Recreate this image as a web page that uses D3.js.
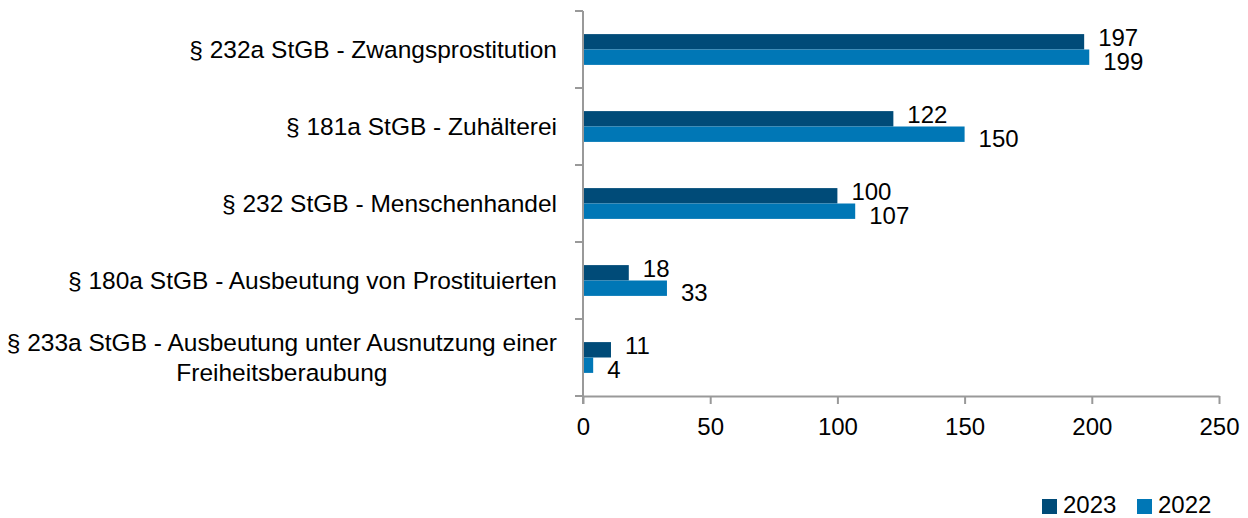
<!DOCTYPE html>
<html>
<head>
<meta charset="utf-8">
<script src="https://cdn.jsdelivr.net/npm/d3@7"></script>
<style>
  body { margin: 0; background: #fff; }
  text { font-family: "Liberation Sans", Arial, sans-serif; fill: #000; }
</style>
</head>
<body>
<div id="root"></div>
<script>
const categories = [
  ["§ 232a StGB - Zwangsprostitution"],
  ["§ 181a StGB - Zuhälterei"],
  ["§ 232 StGB - Menschenhandel"],
  ["§ 180a StGB - Ausbeutung von Prostituierten"],
  ["§ 233a StGB - Ausbeutung unter Ausnutzung einer", "Freiheitsberaubung"]
];
const series = ["2023", "2022"];
const values2023 = [197, 122, 100, 18, 11];
const values2022 = [199, 150, 107, 33, 4];
const xTicks = [0, 50, 100, 150, 200, 250];

const width = 1248;
const height = 518;
const colors = { "2023": "#004b78", "2022": "#0077b6" };
const axisColor = "#999999";

var svg = d3.select("#root").append("svg")
  .attr("width", width)
  .attr("height", height);

var x = d3.scaleLinear()
  .domain([0, 250])
  .range([583, 1219]);

var y = d3.scaleBand()
  .domain(d3.range(categories.length))
  .range([11, 396])
  .paddingInner(0.6)
  .paddingOuter(0.3);

// band step is 77, so inner bars get their own scale
var yInner = d3.scaleBand()
  .domain(series)
  .range([0, y.bandwidth()]);

// axes
var xAxis = svg.append("g")
  .attr("transform", "translate(0,396)")
  .call(d3.axisBottom(x).tickValues(xTicks).tickSize(8).tickSizeOuter(0).tickPadding(14));
xAxis.select(".domain").attr("stroke", axisColor).attr("stroke-width", 2);
xAxis.selectAll(".tick line").attr("stroke", axisColor).attr("stroke-width", 2);
xAxis.selectAll(".tick text")
  .attr("font-size", 24)
  .attr("font-family", "Liberation Sans, Arial, sans-serif");

var yTicks = d3.range(categories.length + 1).map(i => 11 + i * y.step());
svg.append("line")
  .attr("x1", x(0)).attr("x2", x(0))
  .attr("y1", 11).attr("y2", 404)
  .attr("stroke", axisColor).attr("stroke-width", 2);
svg.selectAll(".ytick")
  .data(yTicks)
  .enter().append("line")
  .attr("x1", x(0) - 8).attr("x2", x(0))
  .attr("y1", d => d).attr("y2", d => d)
  .attr("stroke", axisColor).attr("stroke-width", 2);

// bars
var rows = categories.map((c, i) => ({ i: i, label: c, v: { "2023": values2023[i], "2022": values2022[i] } }));

var groups = svg.selectAll(".group")
  .data(rows)
  .enter().append("g")
  .attr("transform", d => "translate(0," + y(d.i) + ")");

groups.selectAll("rect")
  .data(d => series.map(s => ({ s: s, v: d.v[s] })))
  .enter().append("rect")
  .attr("x", x(0) + 1)
  .attr("y", d => yInner(d.s))
  .attr("width", d => x(d.v) - x(0) - 1)
  .attr("height", yInner.bandwidth())
  .attr("fill", d => colors[d.s]);

groups.selectAll(".val")
  .data(d => series.map(s => ({ s: s, v: d.v[s] })))
  .enter().append("text")
  .attr("x", d => x(d.v) + 14)
  .attr("y", d => yInner(d.s) + yInner.bandwidth() / 2 + (d.s === "2023" ? -4 : 4))
  .attr("dy", "0.35em")
  .attr("font-size", 24)
  .text(d => d.v);

// category labels
var labelRight = 557;
groups.each(function(d) {
  var g = d3.select(this);
  var t = g.append("text")
    .attr("font-size", 24.5)
    .attr("text-anchor", "middle");
  var n = d.label.length;
  d.label.forEach((line, k) => {
    t.append("tspan")
      .attr("y", y.bandwidth() / 2 + (k - (n - 1) / 2) * 30)
      .attr("dy", "0.35em")
      .text(line);
  });
  var maxW = d3.max(t.selectAll("tspan").nodes(), n => n.getComputedTextLength());
  t.selectAll("tspan").attr("x", labelRight - maxW / 2);
});

// legend
var legend = svg.append("g").attr("transform", "translate(1042,499)");
var legendX = [0, 95];
series.forEach((s, i) => {
  legend.append("rect")
    .attr("x", legendX[i]).attr("y", 0)
    .attr("width", 15).attr("height", 15)
    .attr("fill", colors[s]);
  legend.append("text")
    .attr("x", legendX[i] + 21)
    .attr("y", 6)
    .attr("dy", "0.35em")
    .attr("font-size", 24)
    .text(s);
});
</script>
</body>
</html>
